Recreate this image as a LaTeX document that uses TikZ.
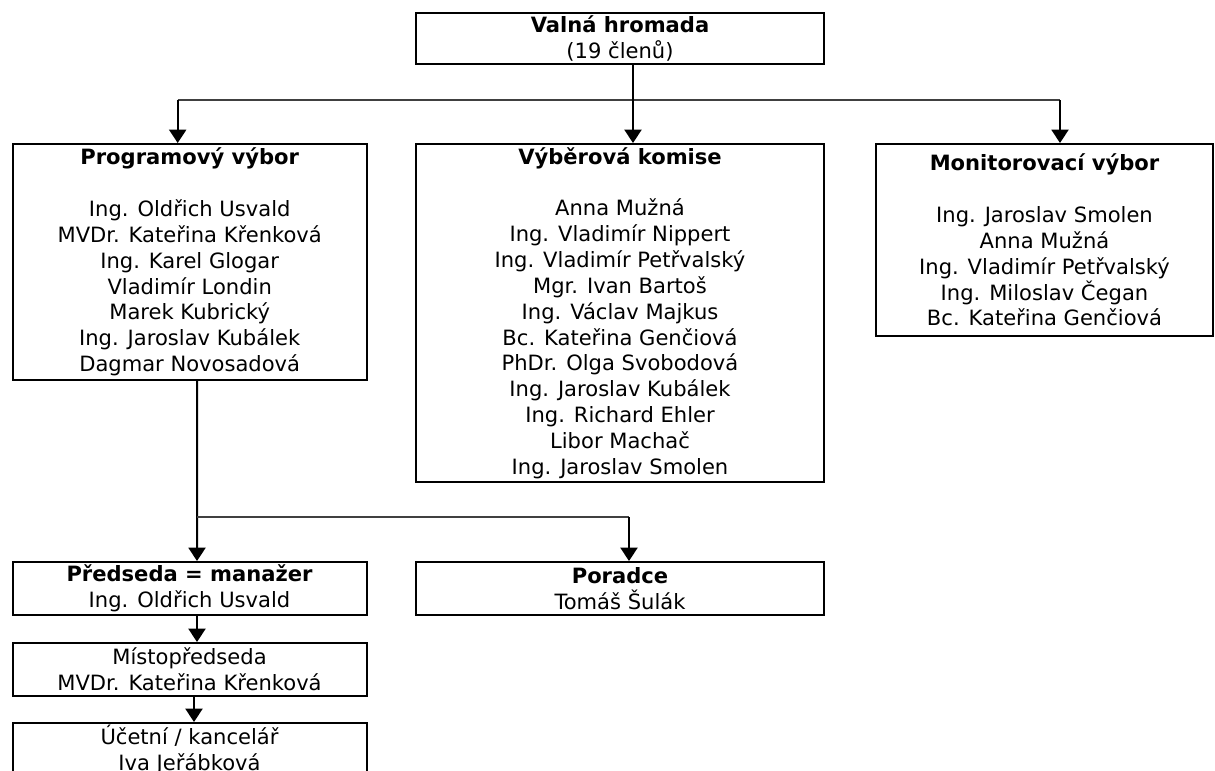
\documentclass[tikz,border=0pt]{standalone}
\usepackage{fontspec}
\setmainfont{DejaVu Sans}
\usetikzlibrary{arrows.meta}
\usetikzlibrary{calc}
\usetikzlibrary{positioning}

\begin{document}
\begin{tikzpicture}[
		x=0.75pt,y=-0.75pt,
		>={Triangle[width=12.75pt,length=10pt]},
		box/.style={draw,line width=1.5pt,rectangle,align=center,inner sep=0pt,anchor=north,font=\fontsize{15.8}{19.4}\selectfont},
		wide/.style={box,minimum width=306pt},
		narrow/.style={box,minimum width=265.5pt},
		side/.style={box,minimum width=252.75pt},
		arr/.style={->,line width=1.5pt},
		bus/.style={line width=1.1pt,black!75}
	]
		\useasboundingbox (0,0) rectangle (1215,771);
		\clip (0,0) rectangle (1215,771);

		\node [wide,minimum height=38.25pt] (valna) at (620,12) {\textbf{Valná hromada}\\(19 členů)};

		\node [narrow,minimum height=177pt] (prog) at (189.7,143) {\textbf{Programový výbor}\\[19.4pt]Ing. Oldřich Usvald\\MVDr. Kateřina Křenková\\Ing. Karel Glogar\\Vladimír Londin\\Marek Kubrický\\Ing. Jaroslav Kubálek\\Dagmar Novosadová};
		\node [wide,minimum height=253.5pt] (vyber) at (620,143) {\textbf{Výběrová komise}\\[19.4pt]Anna Mužná\\Ing. Vladimír Nippert\\Ing. Vladimír Petřvalský\\Mgr. Ivan Bartoš\\Ing. Václav Majkus\\Bc. Kateřina Genčiová\\PhDr. Olga Svobodová\\Ing. Jaroslav Kubálek\\Ing. Richard Ehler\\Libor Machač\\Ing. Jaroslav Smolen};
		\node [side,minimum height=144pt] (moni) at (1044.5,143) {\textbf{Monitorovací výbor}\\[19.4pt]Ing. Jaroslav Smolen\\Anna Mužná\\Ing. Vladimír Petřvalský\\Ing. Miloslav Čegan\\Bc. Kateřina Genčiová};

		\node [narrow,minimum height=39.75pt] (predseda) at (189.5,561) {\textbf{Předseda = manažer}\\Ing. Oldřich Usvald};
		\node [wide,minimum height=39.75pt] (poradce) at (620,561) {\textbf{Poradce}\\Tomáš Šulák};
		\node [narrow,minimum height=39.75pt,below=19.5pt of predseda] (misto) {Místopředseda\\MVDr. Kateřina Křenková};
		\node [narrow,minimum height=39.75pt,below=18.75pt of misto] (ucetni) {Účetní / kancelář\\Iva Jeřábková};

		\coordinate (fork) at ($(prog.south)+(7.5,136)$);
		\coordinate (poradce_in) at ($(poradce.north)+(9,0)$);

		\draw [bus] ($(prog.north)+(-12,-43)$) -- ($(moni.north)+(15.5,-43)$);
		\draw [arr] ($(valna.south)+(13,0)$) -- ($(vyber.north)+(13,0)$);
		\draw [arr] ($(prog.north)+(-12,-43)$) -- ($(prog.north)+(-12,0)$);
		\draw [arr] ($(moni.north)+(15.5,-43)$) -- ($(moni.north)+(15.5,0)$);

		\draw [arr] ($(prog.south)+(7.5,0)$) -- ($(predseda.north)+(7.5,0)$);
		\draw [bus] (fork) -- (fork -| poradce_in);
		\draw [arr] (fork -| poradce_in) -- (poradce_in);
		\draw [arr] ($(predseda.south)+(7.5,0)$) -- ($(misto.north)+(7.5,0)$);
		\draw [arr] ($(misto.south)+(4.5,0)$) -- ($(ucetni.north)+(4.5,0)$);
	\end{tikzpicture}
\end{document}
